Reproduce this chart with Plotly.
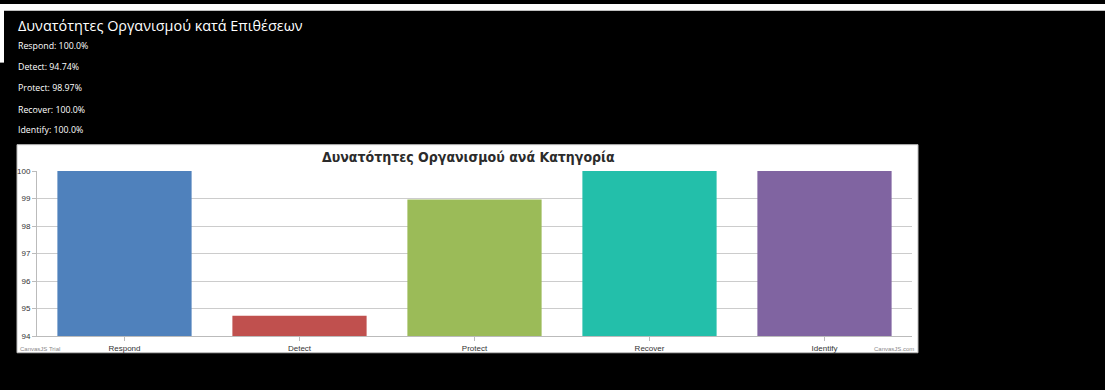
import plotly.graph_objects as go

# Capability scores per category (percent)
categories = ["Respond", "Detect", "Protect", "Recover", "Identify"]
scores = [100.0, 94.74, 98.97, 100.0, 100.0]
bar_colors = ["#4F81BC", "#C0504E", "#9BBB58", "#23BFAA", "#8064A1"]
y_ticks = [94, 95, 96, 97, 98, 99, 100]

page_title = "Δυνατότητες Οργανισμού κατά Επιθέσεων"
chart_title = "Δυνατότητες Οργανισμού ανά Κατηγορία"

W, H = 1105, 390


def px_x(x):
    return x / W


def px_y(y):
    return 1 - y / H


fig = go.Figure()
fig.add_trace(go.Bar(
    x=categories,
    y=scores,
    marker=dict(color=bar_colors, line=dict(width=0)),
    hoverinfo="x+y",
))

shapes = [
    # white panel behind the chart
    dict(type="rect", xref="paper", yref="paper",
         x0=px_x(17), x1=px_x(918), y0=px_y(357), y1=px_y(144),
         fillcolor="white", line=dict(color="#BDBDBD", width=1), layer="below"),
    # thin white strip along the top edge of the page
    dict(type="rect", xref="paper", yref="paper",
         x0=0, x1=1, y0=px_y(7), y1=1,
         fillcolor="white", line=dict(width=0), layer="below"),
    dict(type="rect", xref="paper", yref="paper",
         x0=0, x1=px_x(4), y0=px_y(60), y1=1,
         fillcolor="white", line=dict(width=0), layer="below"),
]

annotations = [
    dict(text=page_title, xref="paper", yref="paper", x=px_x(16), y=px_y(22),
         xanchor="left", yanchor="middle", showarrow=False,
         font=dict(family="Open Sans, Lato, sans-serif", size=14.4, color="white")),
    dict(text=chart_title, xref="paper", yref="paper", x=px_x(468), y=px_y(157),
         xanchor="center", yanchor="middle", showarrow=False,
         font=dict(family="'DejaVu Sans Condensed', 'Liberation Sans Narrow', sans-serif",
                   size=14, weight="bold", color="#2B2B2B")),
    dict(text="CanvasJS Trial", xref="paper", yref="paper", x=px_x(18), y=px_y(353),
         xanchor="left", yanchor="middle", showarrow=False,
         font=dict(family="Liberation Sans, sans-serif", size=6, color="#888888")),
    dict(text="CanvasJS.com", xref="paper", yref="paper", x=px_x(916), y=px_y(353),
         xanchor="right", yanchor="middle", showarrow=False,
         font=dict(family="Liberation Sans, sans-serif", size=6, color="#888888")),
]

# per-category summary lines under the page title
line_y = [43, 65, 86, 108, 129]
for name, val, yy in zip(categories, scores, line_y):
    annotations.append(dict(
        text=f"{name}: {val}%", xref="paper", yref="paper", x=px_x(16), y=px_y(yy),
        xanchor="left", yanchor="middle", showarrow=False,
        font=dict(family="Open Sans, Lato, sans-serif", size=8.8, color="white")))

fig.update_layout(
    width=W, height=H,
    margin=dict(l=0, r=0, t=0, b=0),
    paper_bgcolor="black",
    plot_bgcolor="white",
    showlegend=False,
    bargap=0.233,
    shapes=shapes,
    annotations=annotations,
    xaxis=dict(
        domain=[px_x(37), px_x(912)],
        showgrid=False, showline=True, linecolor="#BBBBBB", linewidth=1,
        ticks="outside", ticklen=4, tickcolor="#BBBBBB",
        tickfont=dict(family="Liberation Sans, sans-serif", size=8, color="#333333"),
        fixedrange=True,
    ),
    yaxis=dict(
        domain=[px_y(340), px_y(171)],
        range=[94, 100], tickvals=y_ticks,
        showgrid=True, gridcolor="#CCCCCC", gridwidth=1,
        showline=True, linecolor="#BBBBBB", linewidth=1,
        ticks="outside", ticklen=4, tickcolor="#BBBBBB",
        tickfont=dict(family="Liberation Sans, sans-serif", size=8, color="#333333"),
        zeroline=False, fixedrange=True,
    ),
)

fig.write_html("out.html", config={"displayModeBar": False})
